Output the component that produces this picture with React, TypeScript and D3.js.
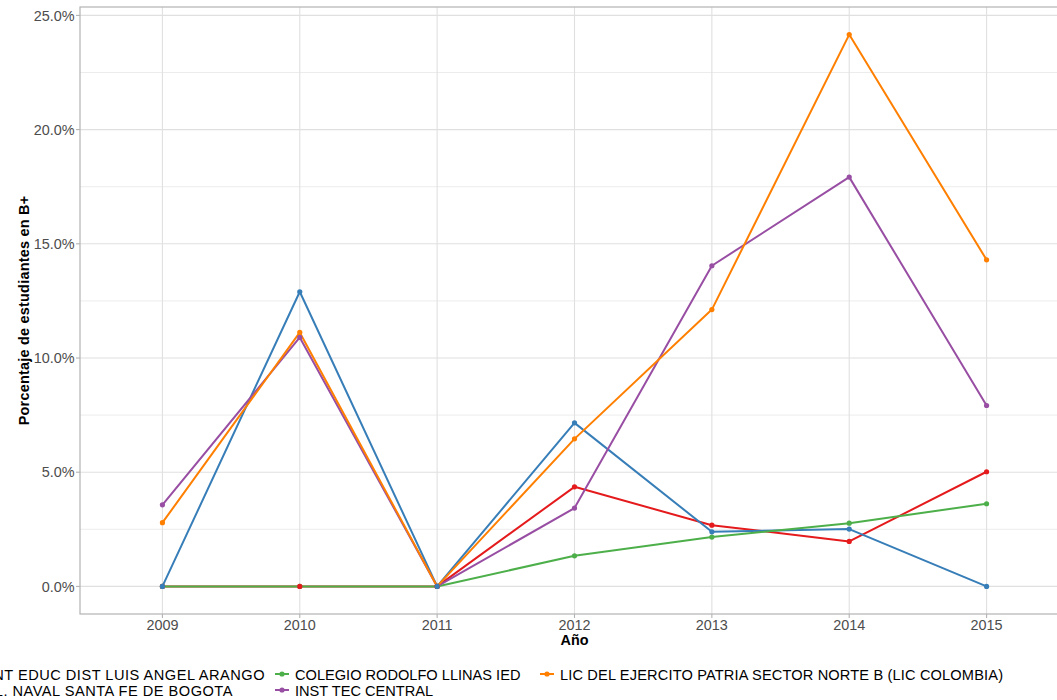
import React, { useLayoutEffect, useRef, useState } from "react";
import * as d3 from "d3";

const years = [2009, 2010, 2011, 2012, 2013, 2014, 2015];
const schools = [
  "CENT EDUC DIST LUIS ANGEL ARANGO",
  "COL. NAVAL SANTA FE DE BOGOTA",
  "COLEGIO RODOLFO LLINAS IED",
  "INST TEC CENTRAL",
  "LIC DEL EJERCITO PATRIA SECTOR NORTE B (LIC COLOMBIA)",
];
const colors = ["#E41A1C", "#377EB8", "#4DAF4A", "#984EA3", "#FF7F00"];
const valuesCent = [0, 0, 0, 4.36, 2.68, 1.97, 5.02];
const valuesNaval = [0, 12.9, 0, 7.16, 2.39, 2.51, 0];
const valuesRodolfo = [0, 0, 0, 1.34, 2.16, 2.77, 3.62];
const valuesInst = [3.57, 10.9, 0, 3.43, 14.04, 17.92, 7.92];
const valuesLic = [2.79, 11.12, 0, 6.46, 12.12, 24.16, 14.3];
const seriesValues = [valuesCent, valuesNaval, valuesRodolfo, valuesInst, valuesLic];
const yTicks = [0, 5, 10, 15, 20, 25];
const yMinor = [2.5, 7.5, 12.5, 17.5, 22.5];
const pointOrder = [2, 3, 4, 0, 1];

const W = 1057;
const H = 700;
const FONT = "'Liberation Sans', Arial, Helvetica, sans-serif";

export default function App() {
  const left = 80, right = 1069, top = 7, bottom = 614;
  const maxV = d3.max(seriesValues.flat()) as number;
  const pad = maxV * 0.05;
  const y = d3.scaleLinear().domain([-pad, maxV + pad]).range([bottom, top]);
  const x = d3.scaleLinear().domain([years[0] - 0.6, years[years.length - 1] + 0.6]).range([left, right]);
  const line = d3
    .line<number>()
    .x((_, i) => x(years[i]))
    .y((v) => y(v));

  const ref1 = useRef<SVGTextElement>(null);
  const [col1Start, setCol1Start] = useState(-30);
  useLayoutEffect(() => {
    if (ref1.current) {
      const w = ref1.current.getBBox().width;
      setCol1Start(265 - w);
    }
  }, []);

  const legendFont = 14.6;
  const legendItems = [
    { s: 0, tx: col1Start, ky: 674, ls: 0.5 },
    { s: 1, tx: col1Start, ky: 690, ls: 0.5 },
    { s: 2, tx: 295, ky: 674, ls: 0 },
    { s: 3, tx: 295, ky: 690, ls: 0 },
    { s: 4, tx: 560, ky: 674, ls: 0.15 },
  ];

  return (
    <svg
      width={W}
      height={H}
      style={{ position: "absolute", left: 0, top: 0, background: "#fff" }}
      fontFamily={FONT}
    >
      <rect x={0} y={0} width={W} height={H} fill="#fff" />
      {yMinor.map((t) => (
        <line key={"mn" + t} x1={left} x2={right} y1={y(t)} y2={y(t)} stroke="#e4e4e4" strokeWidth={0.7} />
      ))}
      {yTicks.map((t) => (
        <line key={"mj" + t} x1={left} x2={right} y1={y(t)} y2={y(t)} stroke="#e0e0e0" strokeWidth={1.1} />
      ))}
      {years.map((yr) => (
        <line key={"vx" + yr} x1={x(yr)} x2={x(yr)} y1={top} y2={bottom} stroke="#e0e0e0" strokeWidth={1.1} />
      ))}
      <rect x={left} y={top} width={right - left} height={bottom - top} fill="none" stroke="#b3b3b3" strokeWidth={1.2} />
      {yTicks.map((t) => (
        <g key={"yt" + t}>
          <line x1={left - 4} x2={left} y1={y(t)} y2={y(t)} stroke="#b3b3b3" strokeWidth={1.1} />
          <text x={left - 5.5} y={y(t)} dy="0.36em" textAnchor="end" fontSize={14.4} fill="#4d4d4d">
            {d3.format(".1f")(t) + "%"}
          </text>
        </g>
      ))}
      {years.map((yr) => (
        <g key={"xt" + yr}>
          <line x1={x(yr)} x2={x(yr)} y1={bottom} y2={bottom + 4} stroke="#b3b3b3" strokeWidth={1.1} />
          <text x={x(yr)} y={630} textAnchor="middle" fontSize={14.4} fill="#4d4d4d">
            {yr}
          </text>
        </g>
      ))}
      <text x={(left + right) / 2} y={645} textAnchor="middle" fontSize={14.4} fontWeight="bold" fill="#000">
        Año
      </text>
      <text
        transform={`translate(28.5, ${(top + bottom) / 2}) rotate(-90)`}
        textAnchor="middle"
        fontSize={14.4}
        fontWeight="bold"
        letterSpacing={0.25}
        fill="#000"
      >
        Porcentaje de estudiantes en B+
      </text>
      {seriesValues.map((vals, s) => (
        <path key={"l" + s} d={line(vals) as string} fill="none" stroke={colors[s]} strokeWidth={2} strokeLinejoin="round" />
      ))}
      {pointOrder.map((s) =>
        seriesValues[s].map((v, i) => (
          <circle key={"p" + s + "-" + i} cx={x(years[i])} cy={y(v)} r={2.6} fill={colors[s]} />
        ))
      )}
      {legendItems.map((it) => (
        <g key={"lg" + it.s}>
          <line x1={it.tx - 20} x2={it.tx - 6} y1={it.ky} y2={it.ky} stroke={colors[it.s]} strokeWidth={2} />
          <circle cx={it.tx - 13} cy={it.ky} r={2.6} fill={colors[it.s]} />
          <text
            ref={it.s === 0 ? ref1 : undefined}
            x={it.tx}
            y={it.ky + 6}
            fontSize={legendFont}
            letterSpacing={it.ls}
            fill="#000"
          >
            {schools[it.s]}
          </text>
        </g>
      ))}
    </svg>
  );
}
